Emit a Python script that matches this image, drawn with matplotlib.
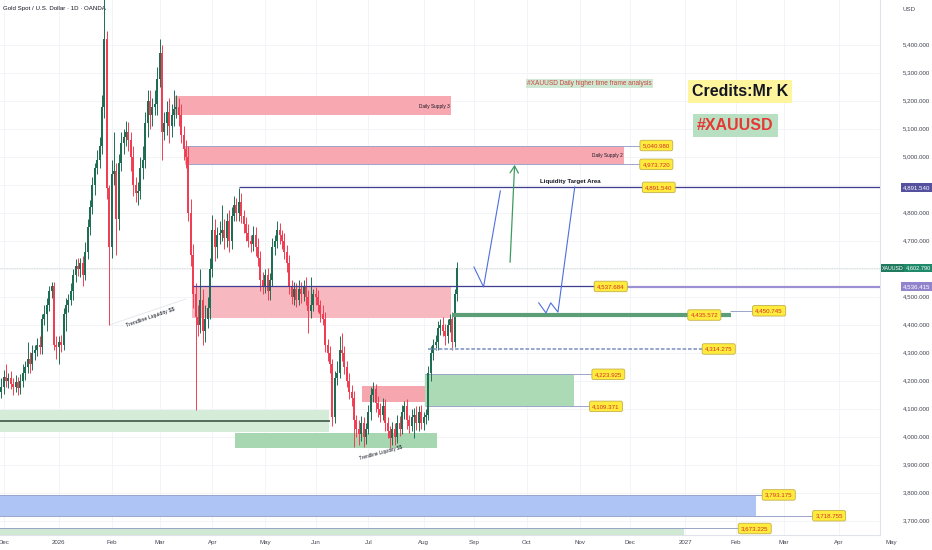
import matplotlib
matplotlib.use("Agg")
import matplotlib.pyplot as plt
import matplotlib.transforms as mtransforms
from matplotlib.patches import Rectangle
import numpy as np
import pandas as pd

plt.rcParams['font.family'] = ['Liberation Sans', 'DejaVu Sans']

# ---- data --------------------------------------------------------------
START = "2025-11-25"          # first daily bar
FIRST_OPEN = 4150

closes = [
    4140, 4130, 4160, 4180, 4215,  4200, 4210, 4190, 4180, 4195,
    4175, 4200, 4230, 4250, 4280,  4260, 4300, 4310, 4330, 4320,
    4420, 4440, 4470, 4520, 4540,  4330, 4320, 4340, 4330, 4440,
    4470, 4490, 4520, 4580, 4610,  4600, 4620, 4580, 4660, 4750,
    4820, 4900, 4960, 4990, 5040,  5180, 5420, 4890, 4680, 4940,
    4950, 4780, 4980, 5050, 5070,  5090, 5060, 5000, 4900, 4870,
    4880, 4960, 4990, 5120, 5200,  5150, 5180, 5190, 5280, 5370,
    5090, 5120, 5160, 5110, 5150,  5170, 5180, 5150, 5080, 5030,
    5000, 4800, 4650, 4510, 4430,  4400, 4490, 4380, 4420, 4460,
    4600, 4740, 4680, 4720, 4730,  4740, 4710, 4770, 4700, 4790,
    4830, 4800, 4840, 4790, 4760,  4730, 4700, 4690, 4720, 4680,
    4640, 4560, 4540, 4580, 4520,  4560, 4680, 4700, 4740, 4720,
    4700, 4660, 4620, 4540, 4500,  4530, 4490, 4530, 4510, 4540,
    4500, 4450, 4470, 4510, 4500,  4470, 4440, 4420, 4330, 4300,
    4260, 4070, 4210, 4230, 4310,  4300, 4250, 4200, 4160, 4140,
    4060, 4030, 4010, 4050, 4000,  4030, 4090, 4150, 4170, 4120,
    4100, 4080, 4110, 4050, 4020,  3995, 4030, 4000, 4050, 4030,
    4090, 4110, 4060, 4040, 4070,  4080, 4050, 4090, 4050, 4070,
    4080, 4230, 4300, 4330, 4340,  4390, 4400, 4380, 4360, 4400,
    4420, 4340, 4510, 4603,
]
wick_hi = [
    20, 25, 20, 30, 25,  45, 20, 25, 20, 25,
    20, 25, 30, 20, 60,  25, 30, 20, 25, 30,
    20, 30, 25, 20, 15,  15, 30, 20, 25, 20,
    25, 20, 30, 20, 25,  30, 20, 25, 35, 30,
    25, 30, 20, 35, 30,  40, 175, 30, 10, 50,
    140, 30, 30, 40, 30,  40, 35, 30, 40, 30,
    30, 40, 50, 40, 40,  40, 30, 50, 40, 50,
    30, 40, 40, 50, 40,  70, 40, 30, 40, 30,
    30, 40, 50, 40, 40,  40, 110, 40, 50, 40,
    40, 53, 40, 30, 40,  90, 40, 30, 40, 30,
    30, 25, 51, 30, 20,  25, 30, 20, 35, 30,
    30, 25, 30, 20, 25,  25, 30, 20, 30, 25,
    20, 30, 25, 30, 20,  25, 20, 30, 25, 20,
    30, 25, 100, 20, 25,  25, 20, 30, 25, 20,
    25, 20, 25, 40, 50,  60, 25, 20, 30, 25,
    25, 20, 30, 25, 20,  20, 25, 30, 25, 20,
    25, 20, 30, 25, 20,  20, 25, 20, 30, 25,
    25, 20, 25, 20, 30,  25, 30, 20, 25, 20,
    20, 25, 25, 20, 25,  25, 20, 30, 25, 20,
    20, 25, 20, 22,
]
wick_lo = [
    25, 20, 30, 20, 25,  20, 25, 20, 30, 20,
    25, 20, 20, 25, 20,  30, 20, 25, 20, 25,
    25, 20, 60, 20, 25,  20, 40, 60, 25, 20,
    60, 25, 20, 30, 25,  25, 30, 40, 20, 25,
    30, 25, 35, 20, 30,  30, 40, 40, 280, 40,
    40, 130, 40, 30, 40,  30, 40, 50, 40, 30,
    40, 30, 40, 30, 50,  50, 40, 30, 40, 30,
    100, 30, 40, 60, 40,  40, 30, 40, 30, 40,
    40, 30, 40, 50, 334,  40, 30, 50, 40, 30,
    40, 30, 50, 40, 30,  30, 40, 30, 40, 30,
    20, 30, 30, 25, 30,  30, 20, 30, 25, 35,
    30, 40, 30, 25, 30,  30, 20, 30, 25, 30,
    30, 25, 30, 30, 25,  30, 25, 20, 30, 25,
    30, 79, 25, 20, 30,  25, 30, 20, 25, 30,
    30, 30, 20, 25, 20,  30, 25, 20, 25, 30,
    95, 30, 40, 25, 35,  25, 20, 30, 25, 30,
    30, 25, 20, 30, 25,  30, 25, 30, 20, 25,
    20, 25, 30, 25, 20,  75, 25, 30, 20, 25,
    25, 20, 30, 25, 20,  30, 25, 20, 30, 25,
    25, 30, 20, 25,
]

last_price = 4602.790
price_ticks = list(range(3700, 5500, 100))
hidden_ticks = [4600, 4900]

# zones: start, end, top, bottom, colour
zones = [
    ("2026-03-11", "2026-08-19", 5218, 5150, "#f7a8b1"),        # Daily Supply 3
    ("2026-03-17", "2026-11-27", 5040.980, 4973.720, "#f7a8b1"),  # Daily Supply 2
    ("2026-03-20", "2026-08-19", 4537.684, 4425, "#f8b8bf"),
    ("2026-06-29", "2026-08-05", 4182, 4125, "#f6a6af"),
    ("2026-04-15", "2026-08-11", 4014, 3961, "#a6d7b0"),
    ("2026-08-04", "2026-10-29", 4223.925, 4109.371, "#acdab4"),
    (START, "2026-06-09", 4096, 4018, "#d5ecd8"),
    (START, "2025-11-28", 4018, 3972, "#b9e0c0"),
    (START, "2027-02-12", 3793.175, 3718.755, "#aec4f5"),
    (START, "2027-01-01", 3673.225, 3630, "#cfe9d3"),
]

# thin level lines: price, start, end
level_lines = [
    (5040.980, "2026-03-17", "2026-12-16"),
    (4973.720, "2026-03-17", "2026-12-16"),
    (4450.745, "2027-01-28", "2027-02-19"),
    (4223.925, "2026-08-04", "2026-11-18"),
    (4109.371, "2026-08-04", "2026-11-17"),
    (3793.175, START, "2027-02-25"),
    (3718.755, START, "2027-03-26"),
    (3673.225, START, "2027-02-11"),
]

# yellow price tags: date, price, text
tags = [
    ("2026-12-16", 5040.980, "5,040.980"),
    ("2026-12-16", 4973.720, "4,973.720"),
    ("2026-12-17", 4891.540, "4,891.540"),
    ("2026-11-19", 4537.684, "4,537.684"),
    ("2027-01-13", 4435.572, "4,435.572"),
    ("2027-02-19", 4450.745, "4,450.745"),
    ("2027-01-21", 4314.275, "4,314.275"),
    ("2026-11-18", 4223.925, "4,223.925"),
    ("2026-11-17", 4109.371, "4,109.371"),
    ("2027-02-25", 3793.175, "3,793.175"),
    ("2027-03-26", 3718.755, "3,718.755"),
    ("2027-02-11", 3673.225, "3,673.225"),
]

path_a = [("2026-09-01", 4607), ("2026-09-07", 4536), ("2026-09-16", 4879)]
path_b = [("2026-10-08", 4479), ("2026-10-13", 4443), ("2026-10-15", 4479),
          ("2026-10-20", 4446), ("2026-10-29", 4893)]
arrow_up = [("2026-09-22", 4614), ("2026-09-24", 4982)]
trend_1 = [("2026-01-30", 4400), ("2026-03-17", 4493)]

# ---- calendar helpers ----------------------------------------------------
days = pd.bdate_range(START, "2027-06-30")


def bi(d):
    return int(days.searchsorted(pd.Timestamp(d)))


fig = plt.figure(figsize=(9.32, 5.5), dpi=100)
ax = fig.add_axes([0, 15 / 550, 880 / 932, 535 / 550])
ax.set_xlim(2.5, 369.2)
ax.set_ylim(3650, 5560.7)
for s in ("left", "top"):
    ax.spines[s].set_visible(False)
for s in ("right", "bottom"):
    ax.spines[s].set_color("#e0e3eb")
    ax.spines[s].set_linewidth(0.8)
ax.set_xticks([])
ax.set_yticks([])

xa = mtransforms.blended_transform_factory(ax.transData, ax.transAxes)
ya = mtransforms.blended_transform_factory(ax.transAxes, ax.transData)
small = dict(family="Liberation Sans", fontsize=4.4, color="#434651")

# grid + month labels
month_starts = pd.date_range("2025-12-01", "2027-05-01", freq="MS")
for m in month_starts:
    i = bi(m)
    lab = str(m.year) if m.month == 1 else m.strftime("%b")
    if i < 369.2:
        ax.axvline(i, color="#f1f3f7", lw=0.6, zorder=0)
    ax.text(i, -0.0131, lab, transform=xa, ha="center", va="center",
            clip_on=False, **small)
for p in price_ticks:
    ax.axhline(p, color="#f1f3f7", lw=0.6, zorder=0)
    if p not in hidden_ticks:
        ax.text(1.0261, p, f"{p:,.3f}", transform=ya, ha="left",
                va="center", clip_on=False, **small)
ax.text(1.0261, 0.983, "USD", transform=ax.transAxes, ha="left",
        va="center", clip_on=False, **small)
ax.text(0.0034, 0.985, "Gold Spot / U.S. Dollar · 1D · OANDA",
        transform=ax.transAxes, ha="left", va="center",
        family="Liberation Sans", fontsize=4.4, color="#131722")

# zones
for s, e, top, bot, col in zones:
    x0 = bi(s) if s != START else 0
    ax.add_patch(Rectangle((x0 - 0.5, bot), bi(e) - x0, top - bot,
                           fc=col, ec="none", zorder=1))
ax.hlines(4057, 0, bi("2026-06-09"), color="#3f5649", lw=1.2, zorder=2)

for p, s, e in level_lines:
    ax.hlines(p, bi(s) - 0.5, bi(e), color="#9aa5c9", lw=0.7, zorder=2)

# key level lines
ax.hlines(4891.540, bi("2026-04-16"), 369.2, color="#3f3d8f", lw=0.9, zorder=6)
ax.hlines(4537.684, bi("2026-03-20"), bi("2026-11-19"), color="#3f3d8f",
          lw=0.9, zorder=6)
ax.hlines(4536.415, bi("2026-11-19"), 369.2, color="#9d90d2", lw=1.6, zorder=6)
ax.hlines(4435.572, bi("2026-08-19"), bi("2027-01-28"), color="#5c9e78",
          lw=3.0, zorder=6)
ax.hlines(4314.275, bi("2026-08-05"), bi("2027-01-21"), color="#8f9fc9",
          lw=1.3, linestyles=(0, (2, 1)), zorder=6)
ax.axhline(last_price, color="#c8d3cf", lw=0.6, ls=(0, (1, 1)), zorder=2)

# candles
c = np.array(closes, dtype=float)
o = np.array([FIRST_OPEN] + closes[:-1], dtype=float)
hi = np.maximum(o, c) + np.array(wick_hi)
lo = np.minimum(o, c) - np.array(wick_lo)
x = np.arange(len(c))
up = c >= o
cols = np.where(up, "#1f6e54", "#f03e54")
ax.vlines(x, lo, hi, colors=cols, lw=0.7, zorder=4)
body = np.maximum(np.abs(c - o), 5)
ax.bar(x, body, bottom=np.minimum(o, c), width=0.8, color=cols, lw=0,
       zorder=5)

# drawings
def pts(seq):
    return [bi(d) for d, _ in seq], [p for _, p in seq]

for seq in (path_a, path_b):
    px, py = pts(seq)
    ax.plot(px, py, color="#4d6fdc", lw=0.8, zorder=7)
px, py = pts(trend_1)
ax.plot(px, py, color="#e3e5ea", lw=0.6, zorder=3)
ax.annotate("", xy=(bi(arrow_up[1][0]), arrow_up[1][1]),
            xytext=(bi(arrow_up[0][0]), arrow_up[0][1]),
            arrowprops=dict(arrowstyle="->,head_length=0.5,head_width=0.3",
                            color="#3f9a62", lw=0.9), zorder=7)

# texts
ax.text(bi("2026-08-18"), 5182, "Daily Supply 3", ha="right", va="center",
        fontsize=3.4, color="#131722", zorder=8)
ax.text(bi("2026-11-26"), 5005, "Daily Supply 2", ha="right", va="center",
        fontsize=3.4, color="#131722", zorder=8)
ax.text(bi("2026-10-27"), 4912, "Liquidity Target Area", ha="center",
        va="center", fontsize=4.4, fontweight="bold", color="#131722", zorder=8)
ax.text(bi("2026-02-24"), 4428, "Trendline Liquidity $$", ha="center",
        va="center", fontsize=3.9, rotation=19, rotation_mode="anchor",
        color="#131722", zorder=8, parse_math=False)
ax.text(bi("2026-07-08"), 3943, "Trendline Liquidity $$", ha="center",
        va="center", fontsize=3.3, rotation=15, rotation_mode="anchor",
        color="#131722", zorder=8, parse_math=False)
ax.text(bi("2026-11-06"), 5262, "#XAUUSD Daily higher time frame analysis",
        ha="center", va="center", fontsize=4.7, color="#c9473c", zorder=8,
        bbox=dict(boxstyle="square,pad=0.2", fc="#cfe8d3", ec="none"))
ax.text(bi("2027-02-03"), 5234, "Credits:Mr K", ha="center", va="center",
        fontsize=11.5, fontweight="bold", color="#131722", zorder=8,
        bbox=dict(boxstyle="square,pad=0.25", fc="#fff59d", ec="none"))
ax.text(bi("2027-02-01"), 5112, "#XAUUSD", ha="center", va="center",
        fontsize=11.5, fontweight="bold", color="#e53935", zorder=8,
        bbox=dict(boxstyle="square,pad=0.25", fc="#b9dfc2", ec="none"))

for d, p, t in tags:
    ax.text(bi(d), p, t, ha="center", va="center", fontsize=4.4,
            color="#d32f2f", zorder=12,
            bbox=dict(boxstyle="round,pad=0.45,rounding_size=0.3",
                      fc="#ffeb3b", ec="#c4b04c", lw=0.6))

# right-axis price boxes
def axis_box(xf, p, t, fc, fs=4.4):
    ax.text(xf, p, t, transform=ya, ha="center", va="center", fontsize=fs,
            color="white", clip_on=False, zorder=13,
            bbox=dict(boxstyle="square,pad=0.3", fc=fc, ec="none"))

axis_box(1.0415, 4891.540, "4,891.540", "#55519f")
axis_box(1.0415, 4536.415, "4,536.415", "#9184cc")
axis_box(1.0150, last_price, "XAUUSD", "#1f7a5e", fs=3.8)
axis_box(1.0440, last_price, "4,602.790", "#1f8a69", fs=4.1)

fig.savefig("out.png", dpi=100, facecolor="white")
